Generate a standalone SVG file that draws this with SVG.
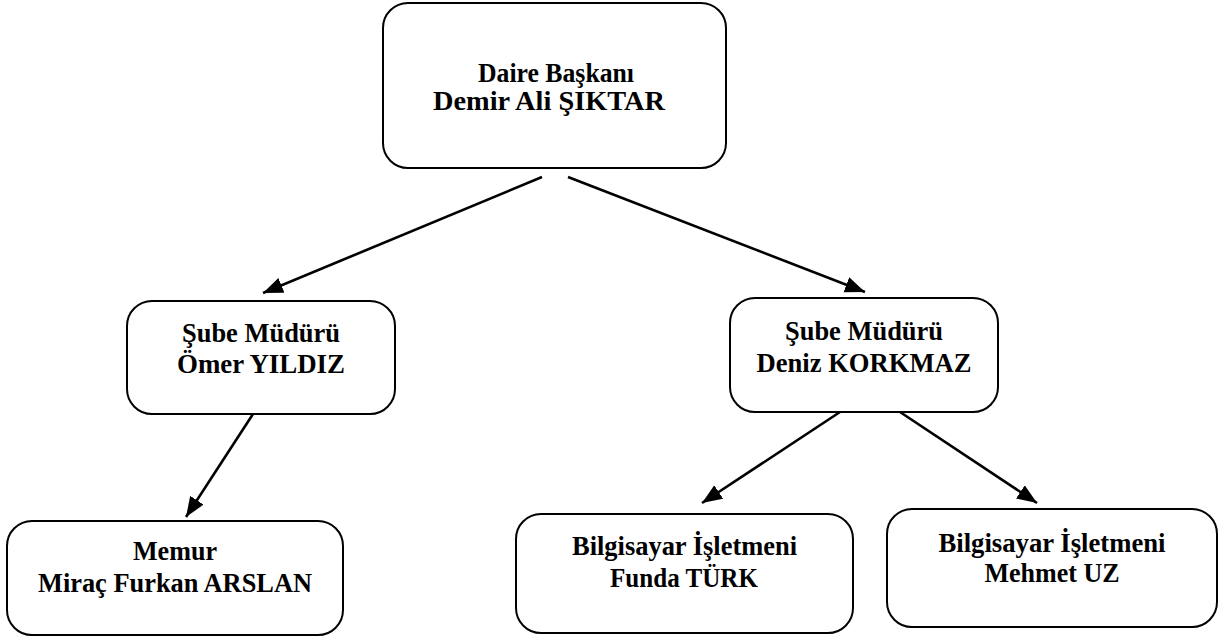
<svg xmlns="http://www.w3.org/2000/svg" width="1225" height="637" viewBox="0 0 1225 637">
<style>
.box{fill:#fff;stroke:#000;stroke-width:2}
text{font-family:'Liberation Serif','Times New Roman','DejaVu Serif',serif;font-weight:700;font-size:28px;fill:#000;text-anchor:middle}
.c{stroke:#000;stroke-width:2.6;fill:none;marker-end:url(#arr)}
</style>
<defs>
<marker id="arr" markerUnits="userSpaceOnUse" markerWidth="22" markerHeight="18" refX="20" refY="8" orient="auto">
<path d="M0,0 L20,8 L0,16 z" fill="#000"/>
</marker>
</defs>
<rect width="1225" height="637" fill="#fff"/>
<g id="connectors">
<line class="c" x1="542" y1="177" x2="263" y2="293"/>
<line class="c" x1="568" y1="177" x2="865" y2="292"/>
<line class="c" x1="253" y1="414" x2="186" y2="517"/>
<line class="c" x1="840" y1="412" x2="702" y2="503"/>
<line class="c" x1="900" y1="412" x2="1037" y2="503"/>
</g>
<g id="daire-baskani">
<rect class="box" x="383" y="3" width="343" height="165" rx="25"/>
<text x="556" y="82" textLength="156" lengthAdjust="spacingAndGlyphs">Daire Başkanı</text>
<text x="549" y="110" textLength="232" lengthAdjust="spacingAndGlyphs">Demir Ali ŞIKTAR</text>
</g>
<g id="sube-muduru-omer">
<rect class="box" x="127" y="301" width="268" height="113" rx="25"/>
<text x="261" y="342" textLength="158" lengthAdjust="spacingAndGlyphs">Şube Müdürü</text>
<text x="261" y="373" textLength="168" lengthAdjust="spacingAndGlyphs">Ömer YILDIZ</text>
</g>
<g id="sube-muduru-deniz">
<rect class="box" x="730" y="298" width="268" height="114" rx="25"/>
<text x="864" y="340" textLength="158" lengthAdjust="spacingAndGlyphs">Şube Müdürü</text>
<text x="864" y="372" textLength="215" lengthAdjust="spacingAndGlyphs">Deniz KORKMAZ</text>
</g>
<g id="memur">
<rect class="box" x="7" y="521" width="336" height="114" rx="25"/>
<text x="175" y="560" textLength="84" lengthAdjust="spacingAndGlyphs">Memur</text>
<text x="175" y="592" textLength="274" lengthAdjust="spacingAndGlyphs">Miraç Furkan ARSLAN</text>
</g>
<g id="bilgisayar-funda">
<rect class="box" x="516" y="514" width="337" height="119" rx="25"/>
<text x="684.5" y="555" textLength="225" lengthAdjust="spacingAndGlyphs">Bilgisayar İşletmeni</text>
<text x="684" y="587" textLength="148" lengthAdjust="spacingAndGlyphs">Funda TÜRK</text>
</g>
<g id="bilgisayar-mehmet">
<rect class="box" x="887" y="509" width="330" height="118" rx="25"/>
<text x="1052" y="552" textLength="227" lengthAdjust="spacingAndGlyphs">Bilgisayar İşletmeni</text>
<text x="1052" y="582" textLength="135" lengthAdjust="spacingAndGlyphs">Mehmet UZ</text>
</g>
</svg>
